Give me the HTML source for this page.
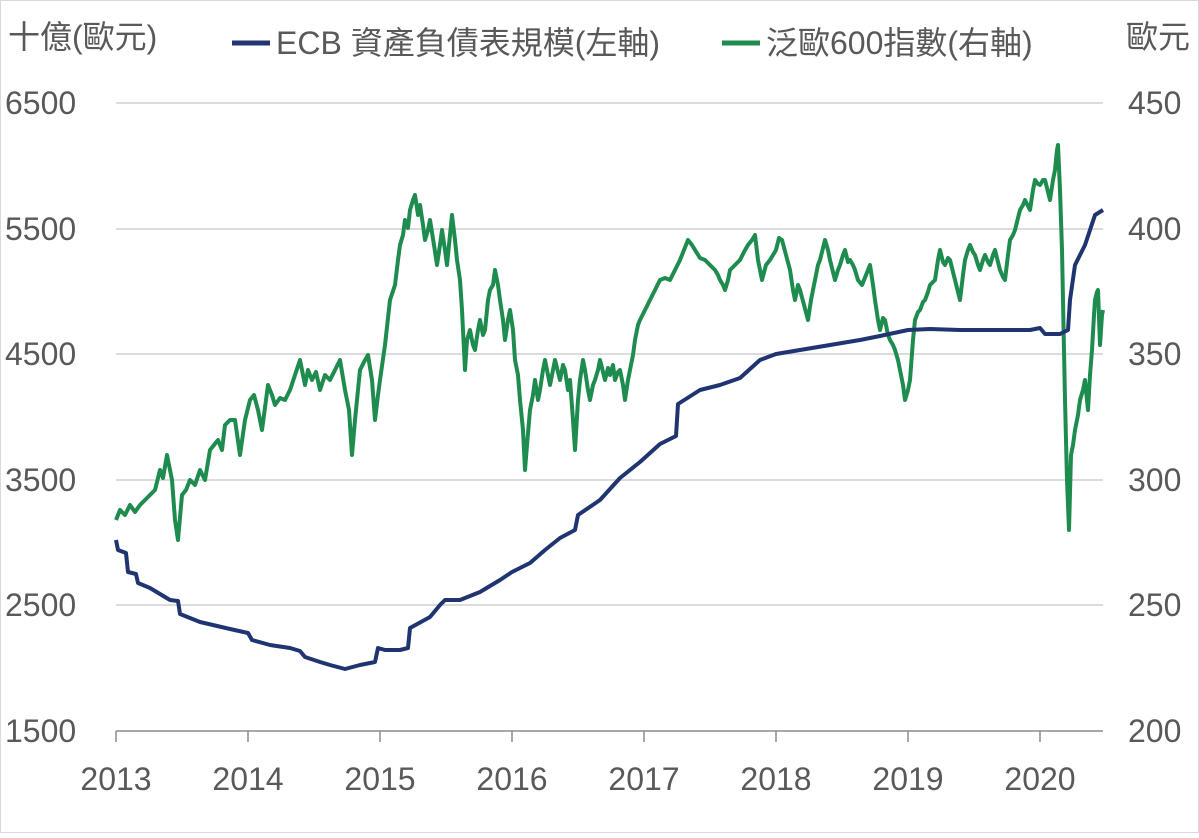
<!DOCTYPE html>
<html><head><meta charset="utf-8"><style>
body{margin:0;background:#fff;}
svg text{font-family:"Liberation Sans","Noto Sans CJK TC",sans-serif;fill:#595959;font-size:32px;}
</style></head><body>
<svg width="1199" height="833" viewBox="0 0 1199 833" xmlns="http://www.w3.org/2000/svg">
<rect x="0.5" y="0.5" width="1198" height="832" fill="#fff" stroke="#d9d9d9"/>
<g stroke="#d0d0d0" stroke-width="1.5">
<line x1="116" y1="103" x2="1103" y2="103"/><line x1="116" y1="229" x2="1103" y2="229"/>
<line x1="116" y1="354" x2="1103" y2="354"/><line x1="116" y1="480" x2="1103" y2="480"/>
<line x1="116" y1="605" x2="1103" y2="605"/>
</g>
<g stroke="#8c8c8c" stroke-width="1.5">
<line x1="116" y1="731" x2="1103" y2="731"/>
<line x1="116" y1="731" x2="116" y2="742"/><line x1="248" y1="731" x2="248" y2="742"/><line x1="380" y1="731" x2="380" y2="742"/><line x1="512" y1="731" x2="512" y2="742"/><line x1="644" y1="731" x2="644" y2="742"/><line x1="776" y1="731" x2="776" y2="742"/><line x1="908" y1="731" x2="908" y2="742"/><line x1="1040" y1="731" x2="1040" y2="742"/>
</g>
<g text-anchor="start">
<text x="5" y="114">6500</text><text x="5" y="240">5500</text><text x="5" y="365">4500</text><text x="5" y="491">3500</text><text x="5" y="616">2500</text><text x="5" y="742">1500</text>
<text x="1128" y="114">450</text><text x="1128" y="240">400</text><text x="1128" y="365">350</text><text x="1128" y="491">300</text><text x="1128" y="616">250</text><text x="1128" y="742">200</text>
</g>
<g text-anchor="middle">
<text x="116" y="790">2013</text><text x="248" y="790">2014</text><text x="380" y="790">2015</text><text x="512" y="790">2016</text><text x="644" y="790">2017</text><text x="776" y="790">2018</text><text x="908" y="790">2019</text><text x="1040" y="790">2020</text>
</g>
<text x="8" y="48">十億(歐元)</text>
<text x="1126" y="48">歐元</text>
<line x1="232" y1="43" x2="270" y2="43" stroke="#1f3471" stroke-width="5"/>
<text x="276" y="54">ECB 資產負債表規模(左軸)</text>
<line x1="722" y1="43" x2="760" y2="43" stroke="#1e8c4e" stroke-width="5"/>
<text x="766" y="54">泛歐600指數(右軸)</text>
<polyline fill="none" stroke="#1e8c4e" stroke-width="4" stroke-linejoin="round" points="116,520 120,510 125,515 130,505 135,512 140,505 145,500 150,495 155,490 160,470 163,478 167,455 172,480 175,520 178,540 182,495 186,490 190,480 195,485 200,470 205,480 210,450 214,445 218,440 222,450 225,425 230,420 235,420 240,455 245,420 250,400 254,395 258,410 262,430 268,385 272,395 275,405 280,398 285,400 290,390 295,375 300,360 305,385 308,370 312,380 316,372 320,390 325,375 330,380 335,370 340,360 345,390 349,410 352,455 355,420 360,370 364,362 368,355 372,380 375,420 378,395 380,380 385,345 390,300 395,285 398,260 400,245 403,235 405,220 408,228 410,210 413,200 415,195 418,215 420,205 423,225 425,240 428,230 430,220 434,245 437,265 440,245 442,230 445,250 447,265 450,235 452,215 455,240 457,260 460,280 462,310 465,370 467,340 470,330 473,345 475,350 478,330 480,320 483,335 485,330 488,300 490,290 493,285 495,270 498,285 500,300 503,320 505,340 508,320 510,310 513,330 515,360 518,375 520,400 523,430 525,470 527,445 530,410 533,395 535,380 538,400 540,390 543,370 545,360 548,375 550,385 553,370 555,360 558,372 560,380 563,365 565,370 568,390 570,380 573,420 575,450 578,400 580,380 583,360 585,370 588,390 590,400 593,385 595,380 598,370 600,360 603,372 605,380 608,368 610,375 613,365 615,380 618,372 620,370 623,385 625,400 628,380 630,370 633,355 635,340 638,325 640,320 645,310 650,300 655,290 660,280 665,278 670,280 675,270 680,260 684,250 688,240 692,245 695,250 700,258 705,260 710,265 715,270 718,275 720,280 723,285 725,290 728,280 730,270 735,265 740,260 744,252 748,245 752,240 755,235 758,260 762,280 766,265 770,260 773,255 776,250 779,238 782,240 786,255 790,270 793,290 795,300 798,285 800,290 804,305 808,320 811,300 815,280 818,265 820,260 823,248 825,240 828,250 830,260 833,272 835,280 838,270 840,265 843,255 845,250 848,262 850,260 853,265 855,270 858,280 862,285 866,275 870,265 873,285 875,300 878,320 880,330 883,318 885,320 888,335 890,340 893,345 895,350 898,360 900,370 903,385 905,400 908,390 910,380 913,340 915,320 918,312 920,310 923,302 925,300 928,292 930,285 933,282 935,280 938,260 940,250 943,262 945,265 948,258 950,260 953,272 955,280 958,292 960,300 963,275 965,260 968,250 970,245 973,252 975,255 978,265 980,270 983,260 985,255 988,262 990,265 993,255 995,250 998,262 1000,270 1003,277 1005,280 1008,255 1010,240 1013,235 1015,230 1018,218 1020,210 1023,205 1025,200 1028,206 1030,210 1033,190 1035,180 1038,184 1040,185 1043,180 1045,180 1048,192 1050,200 1053,180 1055,170 1057,150 1058,145 1060,190 1062,250 1063,300 1065,400 1067,480 1069,530 1071,455 1073,445 1075,430 1078,415 1080,400 1083,390 1085,380 1088,410 1090,375 1092,350 1094,315 1095,300 1097,292 1098,290 1100,345 1102,315 1103,310"/>
<polyline fill="none" stroke="#1f3471" stroke-width="4" stroke-linejoin="round" points="116,540 118,550 126,553 128,572 136,574 138,583 150,588 165,597 170,600 178,601 180,614 200,622 230,629 248,633 252,640 270,645 290,648 300,651 305,657 320,662 330,665 345,669 360,665 375,662 378,648 385,650 400,650 408,648 410,628 430,617 440,605 445,600 460,600 480,592 500,580 512,572 530,563 545,550 560,538 575,530 578,515 600,500 620,478 640,462 660,444 676,436 678,404 700,390 720,385 740,378 760,360 776,354 800,350 830,345 860,340 880,336 908,330 930,329 960,330 1000,330 1030,330 1040,328 1045,334 1060,334 1068,330 1070,300 1075,265 1085,245 1095,215 1103,210"/>
</svg>
</body></html>
